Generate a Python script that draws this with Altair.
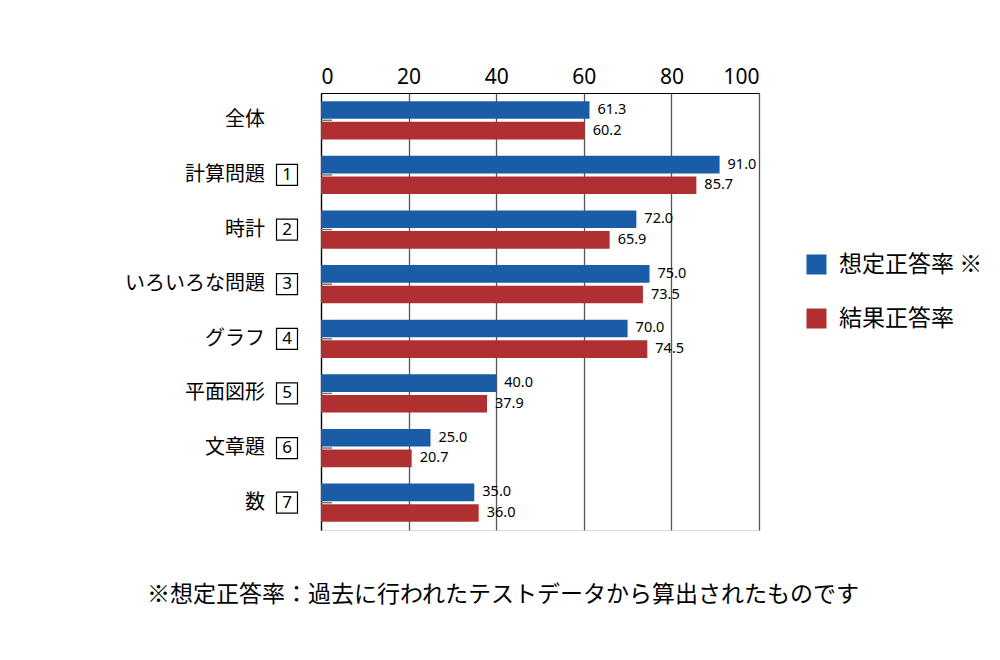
import altair as alt
import pandas as pd

categories = ["全体", "計算問題", "時計", "いろいろな問題", "グラフ", "平面図形", "文章題", "数"]
box_numbers = ["", "1", "2", "3", "4", "5", "6", "7"]
expected = [61.3, 91.0, 72.0, 75.0, 70.0, 40.0, 25.0, 35.0]
actual = [60.2, 85.7, 65.9, 73.5, 74.5, 37.9, 20.7, 36.0]
series_names = ["想定正答率 ※", "結果正答率"]
colors = ["#1b5ca6", "#b03032"]
x_ticks = [0, 20, 40, 60, 80, 100]
footnote = "※想定正答率：過去に行われたテストデータから算出されたものです"

FONT = "Noto Sans CJK JP"
NUMFONT = "Noto Sans"

rows = []
for c, e, a in zip(categories, expected, actual):
    rows.append({"cat": c, "series": series_names[0], "val": e})
    rows.append({"cat": c, "series": series_names[1], "val": a})
df = pd.DataFrame(rows)
lab_df = pd.DataFrame({"cat": categories, "box": box_numbers})
box_df = lab_df[lab_df["box"] != ""]

y_enc = alt.Y("cat:N", sort=categories,
              scale=alt.Scale(paddingInner=0.3, paddingOuter=0.15),
              axis=alt.Axis(labels=False, ticks=False, domain=True, domainColor="black",
                            domainWidth=1.2, title=None, grid=False))
yoff = alt.YOffset("series:N", sort=series_names, scale=alt.Scale(paddingInner=0.15))

x_enc = alt.X("val:Q", scale=alt.Scale(domain=[0, 100], nice=False),
              axis=alt.Axis(orient="top", values=x_ticks, grid=True, gridColor="#555555",
                            gridWidth=1.3, ticks=False, domainColor="black", domainWidth=1.2,
                            labelFontSize=21, labelPadding=6, labelColor="black",
                            title=None, labelFont=NUMFONT))

bars = alt.Chart(df).mark_bar().encode(
    x=x_enc, y=y_enc, yOffset=yoff,
    color=alt.Color("series:N", scale=alt.Scale(domain=series_names, range=colors),
                    legend=alt.Legend(orient="none", legendX=484, legendY=160, title=None,
                                      symbolType="square", symbolSize=400, symbolStrokeWidth=0,
                                      symbolOpacity=1,
                                      labelFontSize=23, labelFont=FONT, labelColor="black",
                                      rowPadding=30, labelOffset=11, padding=0)),
)

vals = alt.Chart(df).mark_text(align="left", baseline="middle", dx=8, fontSize=14.5,
                               font=NUMFONT, color="black").encode(
    x="val:Q", y=alt.Y("cat:N", sort=categories), yOffset=alt.YOffset("series:N", sort=series_names),
    text=alt.Text("val:Q", format=".1f"),
)

ticks = alt.Chart(lab_df).mark_rule(color="#777777", strokeWidth=1.5).encode(
    x=alt.value(0), x2=alt.value(11), y=alt.Y("cat:N", sort=categories),
)

cat_labels = alt.Chart(lab_df).mark_text(align="right", baseline="middle", fontSize=20,
                                         font=FONT, color="black").encode(
    x=alt.value(-56), y=alt.Y("cat:N", sort=categories), text="cat:N",
)

boxes = alt.Chart(box_df).mark_point(shape="square", size=441, filled=False,
                                     stroke="black", strokeWidth=1.2, opacity=1).encode(
    x=alt.value(-34), y=alt.Y("cat:N", sort=categories),
)

box_text = alt.Chart(box_df).mark_text(align="center", baseline="middle", fontSize=17,
                                       font=NUMFONT, color="black").encode(
    x=alt.value(-34), y=alt.Y("cat:N", sort=categories), text="box:N",
)

note = alt.Chart(pd.DataFrame({"t": [footnote]})).mark_text(
    align="center", baseline="middle", fontSize=23, font=FONT, color="black").encode(
    x=alt.value(182), y=alt.value(502), text="t:N",
)

chart = alt.layer(bars, vals, ticks, cat_labels, boxes, box_text, note).properties(
    width=438, height=437,
    autosize=alt.AutoSizeParams(type="none"),
    padding={"left": 321, "top": 93, "right": 241, "bottom": 130},
).configure_view(stroke=None).configure(font=FONT, background="white")

chart.save("out.html", embed_options={"renderer": "svg", "actions": False})
